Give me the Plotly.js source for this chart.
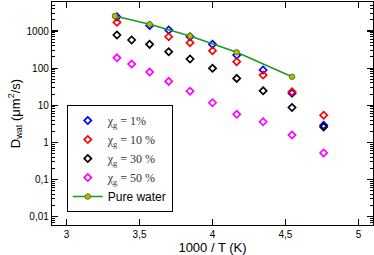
<!DOCTYPE html>
<html><head><meta charset="utf-8">
<script src="https://cdn.plot.ly/plotly-3.0.1.min.js"></script>
<style>html,body{margin:0;padding:0;background:#fff}#c{width:374px;height:255px}</style>
</head><body><div id="c"></div>
<script>
var x1 = [3.345, 3.569, 3.70, 3.846, 4.0, 4.166, 4.347, 4.545, 4.762];
var y1 = [2400, 1400, 1060, 700, 437, 225, 89, 21, 2.9];
var x10 = [3.345, 3.70, 3.846, 4.0, 4.166, 4.347, 4.545, 4.762];
var y10 = [1715, 700, 484, 295, 149, 65, 23, 5.4];
var x30 = [3.345, 3.446, 3.569, 3.70, 3.846, 4.0, 4.166, 4.347, 4.545, 4.762];
var y30 = [780, 572, 437, 277, 176, 99, 53, 24.5, 8.7, 2.6];
var x50 = [3.345, 3.446, 3.569, 3.70, 3.846, 4.0, 4.166, 4.347, 4.545, 4.762];
var y50 = [190, 129, 78.5, 44, 24, 11.7, 5.7, 3.6, 1.58, 0.52];
var xw = [3.331, 3.569, 3.846, 4.166, 4.545];
var yw = [2530, 1515, 733, 267, 58.6];
var xTickVals = [3, 3.5, 4, 4.5, 5];
var xTickText = ['3', '3,5', '4', '4,5', '5'];
var yTickVals = [0.01, 0.1, 1, 10, 100, 1000];
var yTickText = ['0,01', '0,1', '1', '10', '100', '1000'];
var names = ['χ<sub>g</sub> = 1%', 'χ<sub>g</sub> = 10 %', 'χ<sub>g</sub> = 30 %', 'χ<sub>g</sub> = 50 %',
  '<span style="font-family:Liberation Sans, Arial, sans-serif;fill:#000">Pure water</span>'];

function sc(x, y, name, col) {
  return {x: x, y: y, name: name, type: 'scatter', mode: 'markers',
    marker: {symbol: 'diamond-open', size: 5.5, color: col, line: {width: 1.7, color: col}}};
}
var data = [
  sc(x1, y1, names[0], '#0000ff'),
  sc(x10, y10, names[1], '#ff0000'),
  sc(x30, y30, names[2], '#000000'),
  sc(x50, y50, names[3], '#ff00ff'),
  {x: xw, y: yw, name: names[4], type: 'scatter', mode: 'lines+markers',
   line: {color: '#1a9a1a', width: 1.5},
   marker: {symbol: 'circle', size: 5.5, color: '#e8a000', line: {color: '#1a9a1a', width: 1}}}
];
var axCommon = {showgrid: false, zeroline: false, showline: true, linecolor: '#000', linewidth: 1.2,
  mirror: 'allticks', ticks: 'inside', tickcolor: '#000', tickwidth: 1.2,
  tickfont: {family: 'Liberation Sans, Arial, sans-serif', size: 10, color: '#000'}};
var layout = {
  width: 374, height: 255,
  margin: {l: 52, r: 1, t: 2, b: 30},
  paper_bgcolor: '#fff', plot_bgcolor: '#fff',
  showlegend: true,
  xaxis: Object.assign({}, axCommon, {
    range: [2.9, 5.1], tickmode: 'array', tickvals: xTickVals, ticktext: xTickText, ticklen: 6,
    title: {text: '1000 / T (K)', font: {family: 'Liberation Sans, Arial, sans-serif', size: 13, color: '#000'}, standoff: 3}
  }),
  yaxis: Object.assign({}, axCommon, {
    type: 'log', range: [-2.224, 3.781], tickmode: 'array', tickvals: yTickVals, ticktext: yTickText, ticklen: 6,
    minor: {ticks: 'inside', ticklen: 3, tickcolor: '#000', tickwidth: 1, dtick: 'D1', showgrid: false},
    title: {text: 'D<sub>wat</sub> (μm<sup>2</sup>/s)', font: {family: 'Liberation Sans, Arial, sans-serif', size: 13, color: '#000'}, standoff: 3}
  }),
  legend: {x: 0.046, y: 0.538, xanchor: 'left', yanchor: 'top', bordercolor: '#000', borderwidth: 1,
    bgcolor: '#fff', font: {family: 'Liberation Serif, Times New Roman, serif', size: 12, color: '#333'},
    tracegroupgap: 0, itemwidth: 30}
};
Plotly.newPlot('c', data, layout, {staticPlot: true, displayModeBar: false});
</script></body></html>
